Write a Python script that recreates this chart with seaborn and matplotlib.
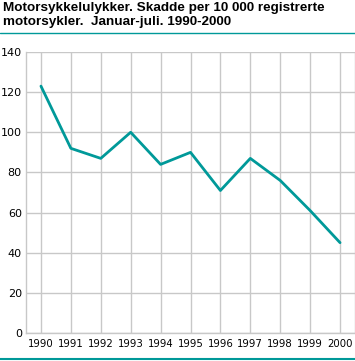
import matplotlib
matplotlib.use("Agg")
import matplotlib.pyplot as plt
import seaborn as sns
import pandas as pd

years = [1990, 1991, 1992, 1993, 1994, 1995, 1996, 1997, 1998, 1999, 2000]
injured = [123, 92, 87, 100, 84, 90, 71, 87, 76, 61, 45]
title = "Motorsykkelulykker. Skadde per 10 000 registrerte\nmotorsykler.  Januar-juli. 1990-2000"

teal = "#009999"
grid_col = "#c8c8c8"

sns.set_style("white")
plt.rcParams['font.family'] = ['DejaVu Sans']

df = pd.DataFrame({'year': years, 'value': injured})

fig = plt.figure(figsize=(3.55, 3.61), dpi=100)
ax = fig.add_axes([26/355, 28/361, 329/355, 281/361])

sns.lineplot(x='year', y='value', data=df, ax=ax, color=teal, linewidth=2)

ax.set_xlim(1989.5, 2000.5)
ax.set_ylim(0, 140)
ax.set_xticks(years)
ax.set_xticklabels([str(y) for y in years], fontsize=7.3, color='black')
ax.set_yticks(range(0, 141, 20))
ax.tick_params(axis='y', labelsize=8, length=0, pad=3, labelcolor='black')
ax.tick_params(axis='x', length=0, pad=4)
ax.grid(True, color=grid_col, linewidth=1)
ax.set_axisbelow(True)
ax.set_xlabel('')
ax.set_ylabel('')
for side in ['top', 'right']:
    ax.spines[side].set_visible(False)
for side in ['left', 'bottom']:
    ax.spines[side].set_color(grid_col)
    ax.spines[side].set_linewidth(1)
# right border gridline
ax.axvline(2000.5, color=grid_col, linewidth=1, clip_on=False)

fig.text(3/355, 1 - 2/361, title, fontsize=9.7, fontweight='bold', color='black',
         family=['Liberation Sans'], va='top', ha='left', linespacing=1.22)
fig.add_artist(plt.Line2D([0, 1], [1 - 33/361, 1 - 33/361], color=teal, linewidth=1))
fig.add_artist(plt.Line2D([0, 1], [1 - 359/361, 1 - 359/361], color=teal, linewidth=1.5))

fig.savefig('out.png', dpi=100)
